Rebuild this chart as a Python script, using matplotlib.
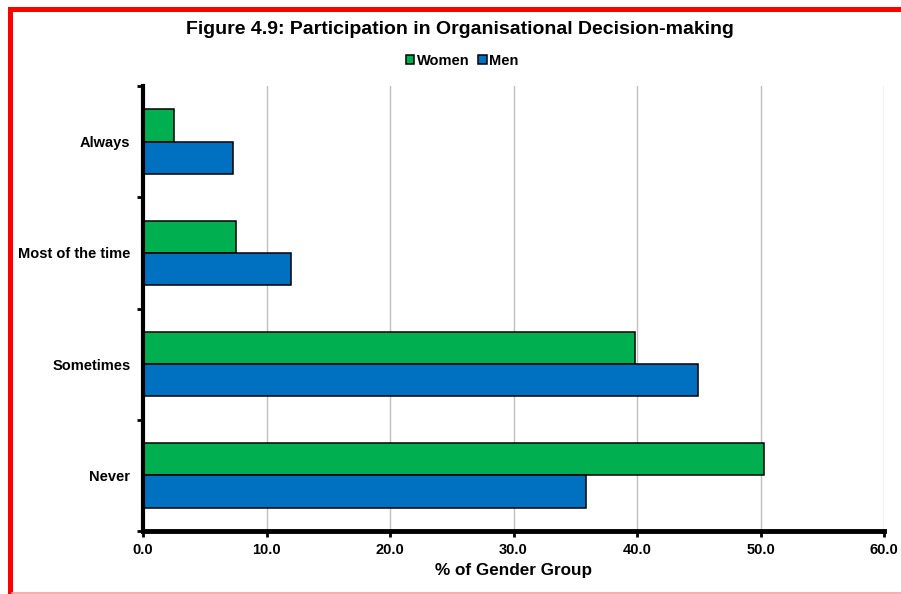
import numpy as np
import matplotlib
matplotlib.use("Agg")
import matplotlib.pyplot as plt
from matplotlib.patches import Rectangle
from matplotlib.lines import Line2D

plt.rcParams["font.family"] = ["Liberation Sans", "DejaVu Sans"]
plt.rcParams["font.weight"] = "bold"

# ---------------------------------------------------------------------
# Data (% of gender group)
# ---------------------------------------------------------------------
categories = ["Always", "Most of the time", "Sometimes", "Never"]
women = [2.5, 7.5, 39.8, 50.3]
men = [7.3, 12.0, 44.9, 35.9]
x_ticks = [0, 10, 20, 30, 40, 50, 60]

GREEN = "#00B050"
BLUE = "#0070C0"

W, H = 901, 594
fig = plt.figure(figsize=(W / 100, H / 100), dpi=100)
ax = fig.add_axes([143 / W, 1 - 531 / H, (884 - 143) / W, (531 - 86) / H])

# categories top to bottom
ypos = np.arange(len(categories))[::-1].astype(float)
bh = 0.29
ax.barh(ypos + bh / 2, women, height=bh, color=GREEN, edgecolor="black",
        linewidth=1.1, label="Women", zorder=3)
ax.barh(ypos - bh / 2, men, height=bh, color=BLUE, edgecolor="black",
        linewidth=1.1, label="Men", zorder=3)

ax.set_xlim(0, 60)
ax.set_ylim(-0.5, len(categories) - 0.5)
ax.set_xticks(x_ticks)
ax.set_xticklabels([f"{v:.1f}" for v in x_ticks], fontsize=10.5, fontweight="bold")
ax.set_yticks(ypos)
ax.set_yticklabels(categories, fontsize=10.5, fontweight="bold")
ax.set_yticks(np.arange(-0.5, len(categories), 1.0), minor=True)
ax.tick_params(axis="y", which="major", length=0, pad=9)
ax.tick_params(axis="y", which="minor", length=4, width=2, direction="out")
ax.tick_params(axis="x", which="major", length=4, width=2, direction="out", pad=5)

ax.grid(axis="x", color="#c0c0c0", linewidth=1.0, zorder=0)
for s in ["top", "right"]:
    ax.spines[s].set_visible(False)
ax.spines["left"].set_linewidth(3)
ax.spines["bottom"].set_linewidth(3.5)
ax.spines["left"].set_zorder(4)
ax.spines["bottom"].set_zorder(4)

ax.set_xlabel("% of Gender Group", fontsize=12.3, fontweight="bold", labelpad=4)

fig.text(460 / W, 1 - 30 / H, "Figure 4.9: Participation in Organisational Decision-making",
         ha="center", va="center", fontsize=14, fontweight="bold")

leg = fig.legend(loc="center", bbox_to_anchor=(462 / W, 1 - 61 / H), ncol=2,
                 frameon=False, fontsize=10.5, handlelength=0.6, handleheight=0.6,
                 handletextpad=0.15, columnspacing=0.6)
for t in leg.get_texts():
    t.set_fontweight("bold")

# red chart border (cropped on right and bottom)
fig.patches.append(Rectangle((9.5 / W, -0.2), 1.5, 1.2 - 8.5 / H,
                             transform=fig.transFigure, fill=False,
                             edgecolor="#FF0000", linewidth=3.6))
fig.lines.append(Line2D([12 / W, 1], [1 - 592.5 / H, 1 - 592.5 / H],
                        transform=fig.transFigure, color="#F4A0A0", linewidth=1.2))

fig.savefig("out.png", dpi=100)
